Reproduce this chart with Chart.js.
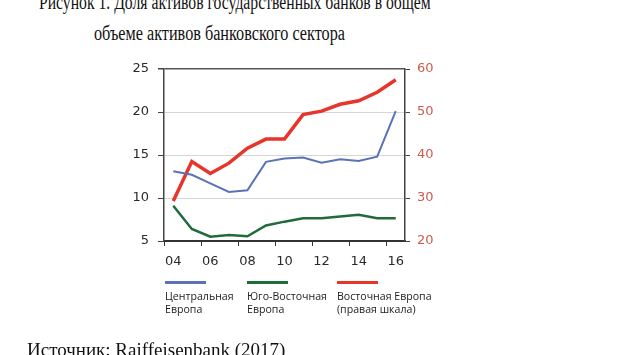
<!DOCTYPE html>
<html>
<head>
<meta charset="utf-8">
<script src="https://cdn.jsdelivr.net/npm/chart.js@4"></script>
<style>
  body { margin: 0; background: #fff; }
  #wrap { position: relative; width: 630px; height: 355px; overflow: hidden; background: #fff; }
  #c { position: absolute; left: 0; top: 0; }
  .serif { position: absolute; font-family: "Liberation Serif", serif; font-size: 19px; line-height: 19px; color: #111; white-space: nowrap; }
  .title { font-size: 20px; line-height: 20px; transform-origin: 0 0; }
  .leg { position: absolute; font-family: "Open Sans", sans-serif; font-size: 10.6px; line-height: 13px; color: #222; white-space: nowrap; }
  .leg i { display: block; width: 41px; height: 3px; margin-bottom: 6px; }
</style>
</head>
<body>
<div id="wrap">
  <div class="serif title" style="left:39px; top:-8px; transform:scaleX(0.784);">Рисунок 1. Доля активов государственных банков в общем</div>
  <div class="serif title" style="left:94px; top:23px; transform:scaleX(0.81);">объеме активов банковского сектора</div>
  <canvas id="c" width="630" height="355"></canvas>
  <div class="leg" style="left:165px; top:281px;"><i style="background:#5b73b6"></i>Центральная<br>Европа</div>
  <div class="leg" style="left:247px; top:281px;"><i style="background:#1f6b3a"></i>Юго-Восточная<br>Европа</div>
  <div class="leg" style="left:337px; top:281px;"><i style="background:#e6352b"></i>Восточная Европа<br>(правая шкала)</div>
  <div class="serif" style="left:27px; top:340px;">Источник: Raiffeisenbank (2017)</div>
</div>
<script>
// годы (последние две цифры)
const years = ['04', '05', '06', '07', '08', '09', '10', '11', '12', '13', '14', '15', '16'];
// левая шкала, %
const centralEurope = [13.1, 12.7, 11.7, 10.7, 10.9, 14.2, 14.6, 14.7, 14.1, 14.5, 14.3, 14.8, 20.1];
const southEastEurope = [9.1, 6.4, 5.5, 5.7, 5.55, 6.8, 7.25, 7.65, 7.65, 7.85, 8.05, 7.65, 7.65];
// правая шкала, %
const easternEurope = [29.3, 38.5, 35.7, 38.1, 41.6, 43.7, 43.7, 49.4, 50.2, 51.8, 52.6, 54.6, 57.5];

const tickFont = { family: 'DejaVu Sans', size: 13 };

new Chart(document.getElementById('c'), {
    type: 'line',
    data: {
        labels: years,
        datasets: [
            { label: 'Центральная Европа', data: centralEurope, yAxisID: 'y', borderColor: '#5b73b6', borderWidth: 2 },
            { label: 'Юго-Восточная Европа', data: southEastEurope, yAxisID: 'y', borderColor: '#1f6b3a', borderWidth: 2.5 },
            { label: 'Восточная Европа (правая шкала)', data: easternEurope, yAxisID: 'y1', borderColor: '#e6352b', borderWidth: 3.5 }
        ]
    },
    options: {
        responsive: false,
        devicePixelRatio: 1,
        animation: false,
        elements: { point: { radius: 0 }, line: { tension: 0 } },
        layout: { padding: { left: 124, right: 185, top: 69, bottom: 84 } },
        plugins: { legend: { display: false }, tooltip: { enabled: false } },
        scales: {
            x: {
                offset: true,
                border: { color: '#333', width: 2 },
                grid: {
                    offset: true,
                    drawOnChartArea: false,
                    tickLength: 5,
                    tickColor: ctx => ctx.index % 2 === 0 ? '#333' : 'transparent' // штрихи между подписями
                },
                ticks: {
                    autoSkip: false,
                    maxRotation: 0,
                    padding: 8,
                    color: '#2a2a2a',
                    font: tickFont,
                    callback: (v, i) => i % 2 === 0 ? years[i] : ''
                },
                afterFit: s => { s.height = 30; }
            },
            y: {
                position: 'left',
                min: 5,
                max: 25,
                border: { color: '#444', width: 1.5 },
                grid: {
                    color: ctx => ctx.tick.value === 25 ? '#555' : (ctx.tick.value === 5 ? 'transparent' : '#d6d6d6'),
                    lineWidth: ctx => ctx.tick.value === 25 ? 1.5 : 1,
                    tickColor: '#444',
                    tickLength: 6
                },
                ticks: { stepSize: 5, padding: 9, color: '#2a2a2a', font: tickFont },
                afterFit: s => { s.width = 40; }
            },
            y1: {
                position: 'right',
                min: 20,
                max: 60,
                border: { color: '#444', width: 1.5 },
                grid: { drawOnChartArea: false, tickColor: '#444', tickLength: 5 },
                ticks: { stepSize: 10, padding: 7, color: '#cf5a4e', font: tickFont },
                afterFit: s => { s.width = 40; }
            }
        }
    }
});
</script>
</body>
</html>
